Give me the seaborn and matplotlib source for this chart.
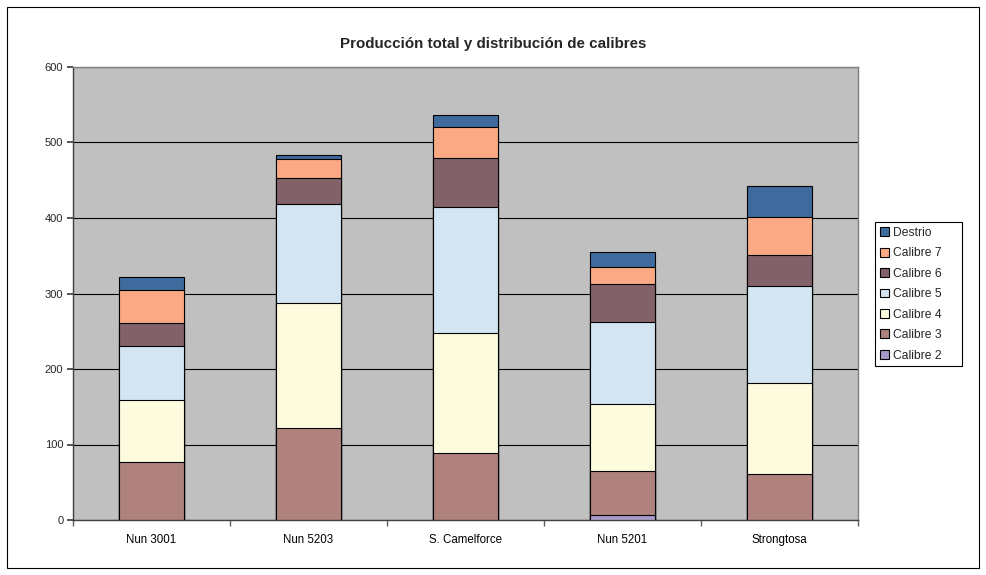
import numpy as np
import pandas as pd
import matplotlib
matplotlib.use("Agg")
import matplotlib.pyplot as plt
import seaborn as sns
from matplotlib.patches import Patch, Rectangle

# datos (kg por variedad y calibre)
variedades = ["Nun 3001", "Nun 5203", "S. Camelforce", "Nun 5201", "Strongtosa"]
calibre_2 = [0, 0, 0, 7, 0]
calibre_3 = [77, 122, 89, 58, 61]
calibre_4 = [82, 166, 159, 89, 121]
calibre_5 = [71, 131, 167, 108, 128]
calibre_6 = [31, 34, 64, 51, 41]
calibre_7 = [44, 25, 41, 22, 50]
destrio = [17, 6, 17, 20, 41]

series = ["Calibre 2", "Calibre 3", "Calibre 4", "Calibre 5", "Calibre 6", "Calibre 7", "Destrio"]
colores = ["#A899C8", "#B0827E", "#FCFBDE", "#D3E5F3", "#826169", "#FBA984", "#3E6A9E"]

df = pd.DataFrame({"Calibre 2": calibre_2, "Calibre 3": calibre_3, "Calibre 4": calibre_4,
                   "Calibre 5": calibre_5, "Calibre 6": calibre_6, "Calibre 7": calibre_7,
                   "Destrio": destrio}, index=variedades)
acumulado = df.cumsum(axis=1)

sns.set_theme(style="white")
plt.rcParams['font.family'] = ['Liberation Sans', 'DejaVu Sans']

fig = plt.figure(figsize=(9.86, 5.75), dpi=100)
ax = fig.add_axes([73 / 986, 1 - 520 / 575, 785 / 986, 453 / 575])
ax.set_facecolor("#C0C0C0")

# barras apiladas: se pinta desde el total hacia abajo
for nombre, color in reversed(list(zip(series, colores))):
    sns.barplot(x=variedades, y=acumulado[nombre].values, color=color, saturation=1,
                width=0.41, edgecolor="black", linewidth=0.8, errorbar=None, ax=ax, zorder=3)

ax.set_ylim(0, 600)
ax.set_xlim(-0.5, 4.5)
ax.set_yticks(range(0, 601, 100))
ax.yaxis.grid(True, color="black", linewidth=0.8)
ax.set_axisbelow(True)

ax.set_xticks(np.arange(-0.5, 5, 1), minor=True)
ax.tick_params(axis="x", which="major", length=0, labelsize=8.3, pad=10, colors="black")
ax.tick_params(axis="x", which="minor", length=4, direction="out", color="#606060", bottom=True)
ax.tick_params(axis="y", length=4, direction="out", labelsize=8, pad=3, color="#404040", left=True)
for sp in ax.spines.values():
    sp.set_color("#808080")
    sp.set_linewidth(1)
ax.spines["left"].set_color("#404040")
ax.spines["bottom"].set_color("#404040")
ax.set_xlabel("")
ax.set_ylabel("")

fig.text(0.5, 1 - 44 / 575, "Producción total y distribución de calibres",
         ha="center", va="center", fontsize=10.9, fontweight="bold")

handles = [Patch(facecolor=c, edgecolor="black", linewidth=0.8, label=n)
           for n, c in reversed(list(zip(series, colores)))]
leg = fig.legend(handles=handles, loc="upper left",
                 bbox_to_anchor=(875 / 986, 1 - 366 / 575, 87 / 986, 144 / 575), mode="expand",
                 fontsize=8.7, frameon=True, fancybox=False, framealpha=1, edgecolor="black",
                 handlelength=0.75, handleheight=0.75, handletextpad=0.35, labelspacing=0.7,
                 borderpad=0.4, borderaxespad=0)
leg.get_frame().set_linewidth(0.8)

fig.patches.append(Rectangle((7 / 986, 7 / 575), 972 / 986, 561 / 575, transform=fig.transFigure,
                             fill=False, edgecolor="black", linewidth=0.8))

fig.savefig("out.png", dpi=100)
